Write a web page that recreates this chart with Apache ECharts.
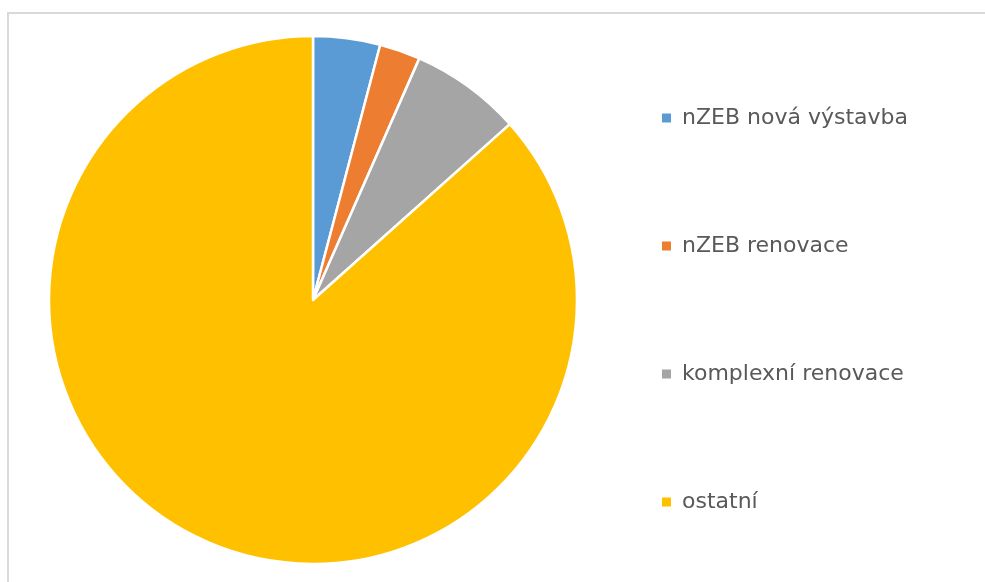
<!DOCTYPE html>
<html>
<head>
<meta charset="utf-8">
<script src="https://cdn.jsdelivr.net/npm/echarts@6/dist/echarts.min.js"></script>
<style>
  html, body { margin: 0; padding: 0; background: #ffffff; }
  #chart { width: 985px; height: 582px; }
</style>
</head>
<body>
<div id="chart"></div>
<script>
// Share of building categories (percent)
const categories = ['nZEB nová výstavba', 'nZEB renovace', 'komplexní renovace', 'ostatní'];
const values = [4.1, 2.5, 6.8, 86.6];
const colors = ['#5B9BD5', '#ED7D31', '#A5A5A5', '#FFC000'];

const chart = echarts.init(document.getElementById('chart'), null, { renderer: 'canvas' });

chart.setOption({
  animation: false,
  backgroundColor: '#ffffff',
  color: colors,
  graphic: [{
    type: 'rect',
    shape: { x: 8, y: 13, width: 1000, height: 620 },
    style: { fill: 'none', stroke: '#d9d9d9', lineWidth: 2 },
    silent: true,
    z: -1
  }],
  legend: {
    orient: 'vertical',
    left: 660,
    top: 106,
    padding: 0,
    itemWidth: 11,
    itemHeight: 11,
    itemGap: 104,
    icon: 'rect',
    textStyle: {
      fontFamily: 'DejaVu Sans',
      fontSize: 22,
      lineHeight: 24,
      color: '#595959',
      padding: [0, 0, 0, 5]
    },
    data: categories
  },
  series: [{
    type: 'pie',
    center: [313, 300],
    radius: 264,
    startAngle: 90,
    clockwise: true,
    label: { show: false },
    labelLine: { show: false },
    itemStyle: { borderColor: '#ffffff', borderWidth: 2.5 },
    emphasis: { disabled: true },
    data: categories.map((name, i) => ({ name, value: values[i] }))
  }]
});
</script>
</body>
</html>
